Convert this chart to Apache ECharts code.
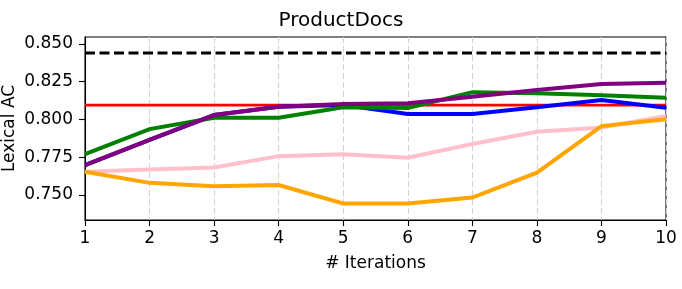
<!DOCTYPE html>
<html><head><meta charset="utf-8">
<script src="https://cdn.jsdelivr.net/npm/echarts@6/dist/echarts.min.js"></script>
<style>html,body{margin:0;padding:0;background:#fff}#c{width:682px;height:289px}</style>
</head><body><div id="c"></div>
<script>
const iterations = [1,2,3,4,5,6,7,8,9,10];
const yTicks = [0.750, 0.775, 0.800, 0.825, 0.850];
const baselineDashed = 0.844;
const baselineRed = 0.8095;
const pinkVals   = [0.7653,0.7669,0.7682,0.7757,0.7769,0.7746,0.7837,0.7918,0.7947,0.8023];
const orangeVals = [0.7653,0.7580,0.7558,0.7565,0.7444,0.7444,0.7483,0.7647,0.7956,0.8001];
const blueVals   = [0.7698,0.7864,0.8029,0.8084,0.8095,0.8036,0.8036,0.8080,0.8129,0.8078];
const greenVals  = [0.7771,0.7936,0.8011,0.8011,0.8080,0.8076,0.8180,0.8173,0.8160,0.8144];
const purpleVals = [0.7698,0.7864,0.8029,0.8084,0.8102,0.8107,0.8150,0.8195,0.8235,0.8243];

const pairs = v => iterations.map((x,i)=>[x,v[i]]);
const flat = v => [[1,v],[10,v]];
const font = 'DejaVu Sans';
const chart = echarts.init(document.getElementById('c'));
const line = (data,color,z,extra) => Object.assign({type:'line',data,showSymbol:false,symbol:'none',z,
  lineStyle:{color,width:4,cap:'butt',join:'miter'},animation:false},extra||{});
chart.setOption({
  animation:false,
  title:{text:'ProductDocs',left:'center',top:6,textStyle:{fontFamily:font,fontSize:20,fontWeight:'normal',color:'#000'}},
  grid:{left:85,right:16,top:37,bottom:69,containLabel:false,outerBoundsMode:'none',show:true,borderColor:'#000',borderWidth:1.1,backgroundColor:'transparent'},
  xAxis:{type:'value',min:1,max:10,interval:1,name:'# Iterations',nameLocation:'middle',nameGap:35,nameMoveOverlap:false,
    nameTextStyle:{fontFamily:font,fontSize:17,color:'#000'},
    axisLine:{show:true,lineStyle:{color:'#000',width:1.1}},
    axisTick:{show:true,length:6,lineStyle:{color:'#000',width:1.1}},
    axisLabel:{fontFamily:font,fontSize:17,color:'#000',margin:10},
    splitLine:{show:true,lineStyle:{color:'#d3d3d3',type:[6,3],width:1.1}}},
  yAxis:{type:'value',min:0.7334,max:0.8546,name:'Lexical AC',nameLocation:'middle',nameGap:67,nameMoveOverlap:false,
    nameTextStyle:{fontFamily:font,fontSize:17,color:'#000'},
    axisLine:{show:true,lineStyle:{color:'#000',width:1.1}},
    axisTick:{show:true,length:6,lineStyle:{color:'#000',width:1.1},customValues:yTicks},
    axisLabel:{fontFamily:font,fontSize:17,color:'#000',margin:12,customValues:yTicks,formatter:v=>v.toFixed(3)},
    splitLine:{show:false}},
  series:[
    line(flat(baselineDashed),'#000',2,{lineStyle:{color:'#000',width:2.8,type:[10,4.5]}}),
    line(flat(baselineRed),'#ff0000',3,{lineStyle:{color:'#ff0000',width:2.8}}),
    line(pairs(pinkVals),'#ffc0cb',4),
    line(pairs(orangeVals),'#ffa500',5),
    line(pairs(blueVals),'#0000ff',6),
    line(pairs(greenVals),'#008000',7),
    line(pairs(purpleVals),'#800080',8)
  ]
});
</script></body></html>
